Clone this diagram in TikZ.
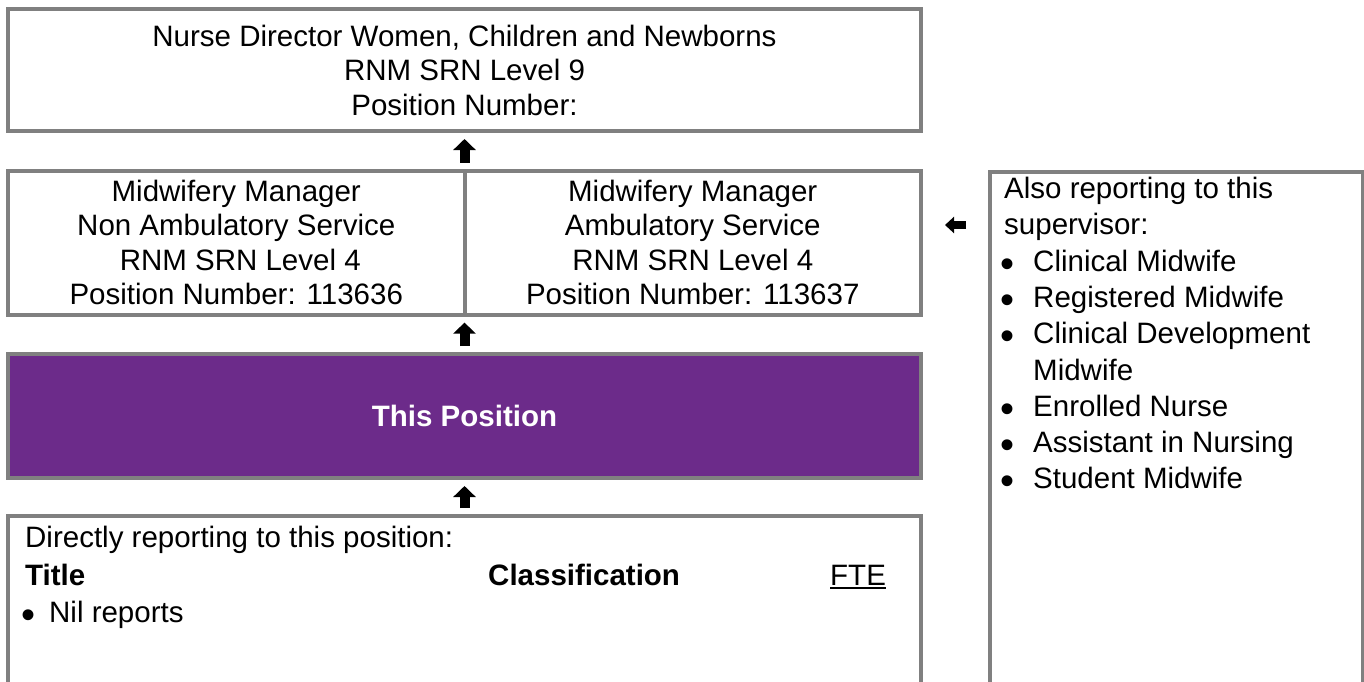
\documentclass[tikz,border=0pt]{standalone}
\usepackage{fontspec}
\setmainfont{Liberation Sans}
\usepackage{tikz}
\usetikzlibrary{arrows.meta,calc}
\definecolor{boxgray}{RGB}{128,128,128}
\definecolor{posviolet}{RGB}{108,43,138}
\newcommand{\bul}[1][29pt]{\makebox[#1][l]{\hspace{-4pt}\smash{\raisebox{-6pt}{\fontsize{40}{0}\selectfont\textbullet}}}}
\newcommand{\ulword}[1]{\setbox0\hbox{#1}\rlap{\rule[-3.5pt]{\wd0}{2pt}}\box0}

\begin{document}
\begin{tikzpicture}[
  x=1pt, y=-1pt,
  obox/.style = {
    rectangle, draw=boxgray, line width=4pt, outer sep=0pt, inner sep=0pt,
    align=center, font=\fontsize{29.5}{34.5}\selectfont
  },
  ltext/.style = {inner sep=0pt, anchor=north west, align=left},
  uparr/.style = {-{Triangle[length=11pt,width=22pt]}, line width=10pt, shorten <=8pt, shorten >=8pt},
  sidearr/.style = {-{Triangle[length=9pt,width=16pt]}, line width=8pt, shorten <=24pt, shorten >=24pt}
]
  \useasboundingbox (0,0) rectangle (1364,681);
  \clip (0,0) rectangle (1364,681);

  \node[obox, minimum width=913pt, minimum height=122pt] (dir) at (464.5,70)
    {Nurse Director Women, Children and Newborns\\RNM SRN Level 9\\Position Number:};
  \node[obox, minimum width=456.5pt, minimum height=144pt] (mgra) at (236.25,242.6)
    {Midwifery Manager\\Non Ambulatory Service\\\hspace*{8pt}RNM SRN Level 4\\Position Number: 113636};
  \node[obox, minimum width=456.5pt, minimum height=144pt] (mgrb) at (692.75,242.6)
    {Midwifery Manager\\Ambulatory Service\\RNM SRN Level 4\\Position Number: 113637};
  \node[obox, fill=posviolet, text=white, font=\fontsize{29.5}{34.5}\selectfont\bfseries,
        minimum width=913pt, minimum height=124pt] (this) at (464.5,416) {This Position};
  \node[obox, minimum width=913pt, minimum height=204pt] (rep) at (464.5,618) {};
  \node[obox, minimum width=372.5pt, minimum height=548.5pt] (also) at (1176.25,445.75) {};

  % box texts
  \node[ltext, font=\fontsize{29.5}{37.5}\selectfont] (replist) at (25,526)
    {Directly reporting to this position:\\
     \makebox[463pt][l]{\bfseries Title}\makebox[342pt][l]{\bfseries Classification}\ulword{FTE}\\
     \bul[24pt]Nil reports};
  \node[ltext, font=\fontsize{29.5}{36.3}\selectfont] (alsolist) at (1004,177)
    {Also reporting to this\\
     supervisor:\\
     \bul Clinical Midwife\\
     \bul Registered Midwife\\
     \bul Clinical Development\\
     \hspace*{29pt}Midwife\\
     \bul Enrolled Nurse\\
     \bul Assistant in Nursing\\
     \bul Student Midwife};

  \draw[uparr] (mgra.north east) -- (dir.south);
  \draw[uparr] (this.north) -- (mgra.south east);
  \draw[uparr] (rep.north) -- (this.south);
  \draw[sidearr] (also.west |- 0,225) -- (mgrb.east |- 0,225);
\end{tikzpicture}
\end{document}
